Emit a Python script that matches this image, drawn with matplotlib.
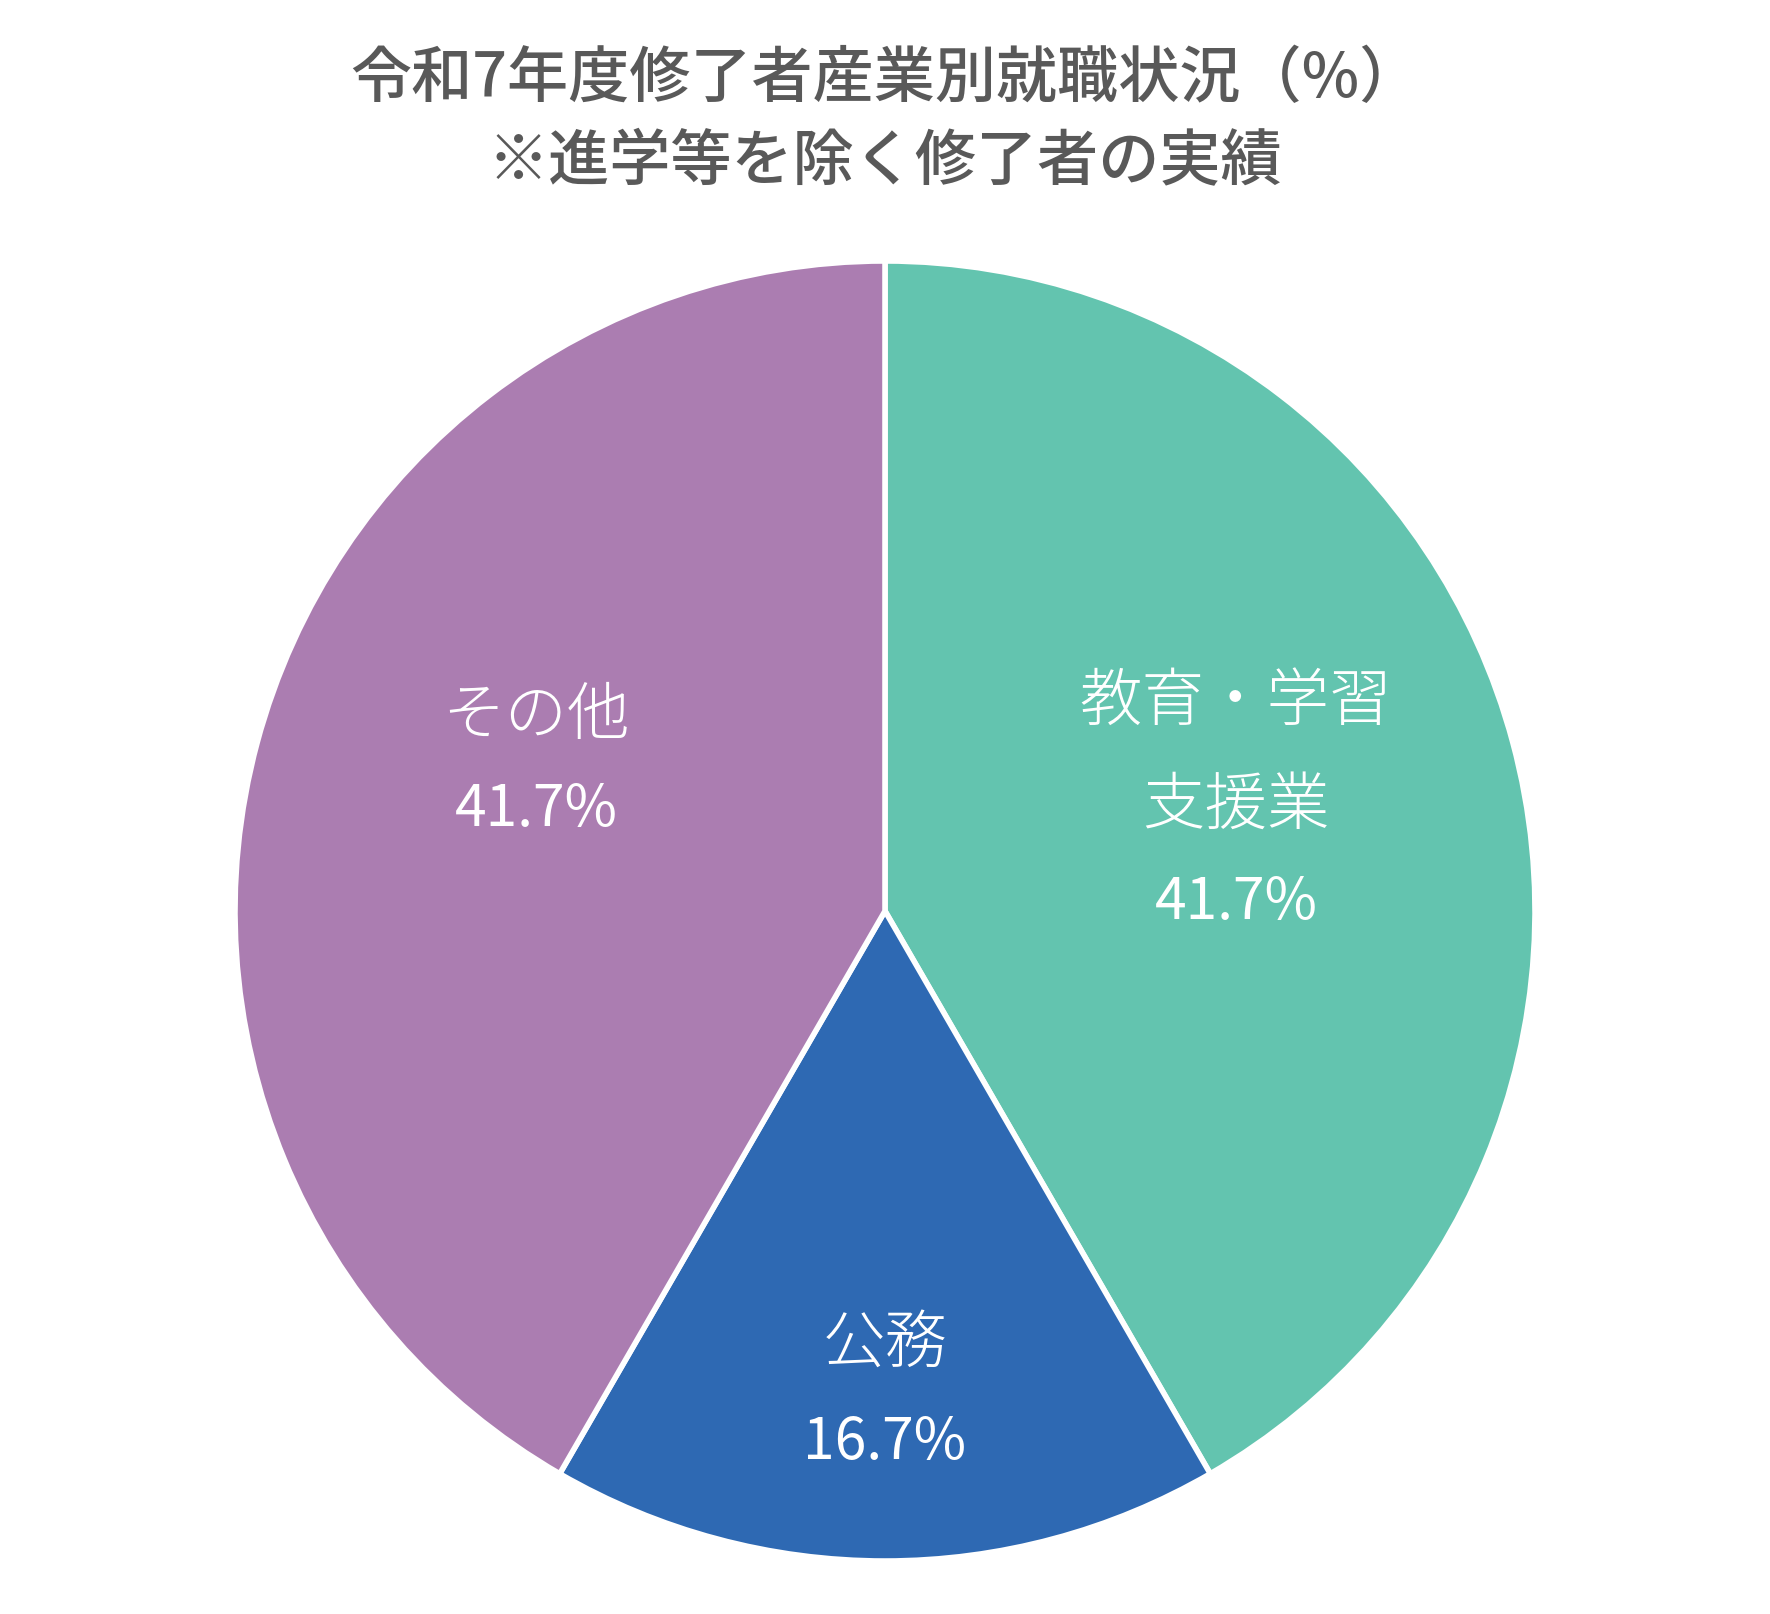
import matplotlib
matplotlib.use("Agg")
import matplotlib.pyplot as plt
import numpy as np

plt.rcParams['font.family'] = ['Noto Sans CJK JP', 'DejaVu Sans']

categories = ["教育・学習\n支援業", "公務", "その他"]
values = [41.7, 16.7, 41.7]
colors = ["#63C4AF", "#2E69B3", "#AB7DB1"]
title = "令和7年度修了者産業別就職状況（%）\n※進学等を除く修了者の実績"

# label positions as fraction of radius (style): category block, percent line
cat_xy = [(0.54, 0.242), (0.0, -0.666), (-0.537, 0.300)]
pct_xy = [(0.54, 0.014), (0.0, -0.817), (-0.537, 0.157)]

fig = plt.figure(figsize=(17.70, 16.15), dpi=100)
ax = fig.add_axes([0, 0, 1, 1])
R = 650
cx, cy = 885, 1615 - 912
wedges, _ = ax.pie(values, colors=colors, startangle=90, counterclock=False,
                   radius=R, center=(cx, cy),
                   wedgeprops=dict(edgecolor="white", linewidth=4))
ax.set_xlim(0, 1770)
ax.set_ylim(0, 1615)
ax.set_aspect('equal')
ax.axis('off')

for (lx, ly), (px, py), cat, v in zip(cat_xy, pct_xy, categories, values):
    ax.text(cx + lx * R, cy + ly * R, cat, ha='center', va='center',
            color='white', fontsize=45, fontweight='light', linespacing=1.8)
    ax.text(cx + px * R, cy + py * R, f"{v:.1f}%", ha='center', va='center',
            color='white', fontsize=41, fontweight='normal')

fig.text(0.5, 1 - 121 / 1615, title, ha='center', va='center', color='#595959',
         fontsize=44, fontweight='medium', linespacing=1.4)

fig.savefig("out.png", dpi=100)
